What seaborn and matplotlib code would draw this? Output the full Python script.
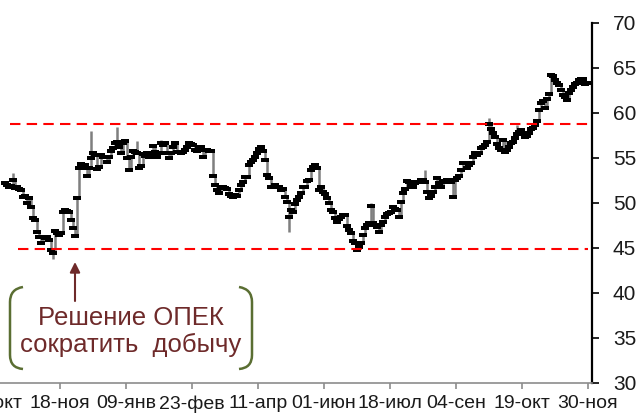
import numpy as np
import pandas as pd
import matplotlib
matplotlib.use("Agg")
import matplotlib.pyplot as plt
import seaborn as sns
from matplotlib.path import Path
from matplotlib.patches import PathPatch

# daily close, one value per trading day (Oct 2016 - Nov 2017)
close = [
    52.2, 52.0, 51.7, 51.9, 52.5, 51.6, 51.8, 51.5, 51.4, 50.6,
    50.8, 50.0, 50.5, 49.5, 48.3, 48.1, 46.7, 46.2, 45.5, 46.2,
    46.1, 46.2, 45.9, 44.8, 44.4, 46.9, 46.6, 46.4, 46.6, 49.0,
    49.2, 49.1, 49.0, 48.1, 47.2, 46.3, 50.5, 53.9, 54.3, 53.9,
    54.2, 53.0, 53.9, 55.0, 55.5, 55.3, 53.7, 54.0, 55.3, 55.1,
    55.1, 54.5, 55.1, 55.8, 56.1, 56.6, 56.7, 56.2, 55.5, 56.6,
    56.9, 55.0, 53.6, 55.1, 55.8, 55.6, 55.5, 53.9, 54.1, 55.4,
    55.2, 55.5, 55.1, 55.5, 56.3, 55.6, 55.1, 55.5, 56.6, 56.4,
    56.6, 55.5, 55.0, 55.5, 56.2, 56.6, 55.6, 55.6, 55.5, 55.6,
    55.9, 56.2, 56.6, 56.5, 56.4, 55.9, 55.8, 56.0, 56.2, 55.1,
    55.9, 55.9, 55.8, 55.8, 53.0, 52.0, 51.4, 51.1, 51.8, 51.8,
    51.6, 51.5, 51.0, 50.8, 50.6, 50.9, 50.7, 51.4, 52.0, 52.3,
    52.9, 52.9, 54.2, 54.5, 54.8, 55.1, 55.5, 56.0, 56.2, 55.8,
    54.7, 53.1, 52.7, 51.8, 51.8, 52.0, 51.7, 51.8, 51.4, 51.5,
    50.6, 50.1, 48.4, 49.2, 49.0, 49.9, 50.3, 50.6, 51.1, 51.8,
    51.8, 52.4, 52.5, 53.6, 54.0, 54.2, 53.9, 51.4, 51.8, 51.2,
    51.0, 50.5, 50.0, 49.2, 49.0, 48.3, 47.9, 48.2, 48.4, 48.6,
    48.6, 47.4, 47.0, 46.6, 45.8, 45.5, 44.7, 45.1, 45.5, 46.4,
    47.2, 47.5, 47.8, 49.6, 47.8, 47.5, 47.3, 46.7, 47.5, 47.9,
    48.4, 48.8, 48.9, 49.0, 49.5, 49.3, 49.2, 48.4, 50.1, 51.1,
    51.5, 52.4, 52.3, 52.0, 51.8, 52.2, 52.3, 52.3, 52.5, 52.5,
    52.3, 51.2, 50.5, 50.8, 51.2, 51.7, 52.7, 52.2, 51.8, 52.3,
    52.4, 52.5, 52.3, 52.3, 50.6, 52.5, 52.7, 53.0, 53.6, 54.4,
    54.4, 53.9, 54.2, 54.4, 55.1, 55.5, 55.3, 55.5, 56.1, 56.2,
    56.4, 56.8, 58.8, 58.2, 57.7, 57.3, 56.5, 56.1, 55.9, 57.0,
    55.6, 55.9, 56.2, 56.6, 56.8, 57.2, 57.6, 57.9, 58.1, 57.7,
    57.3, 57.4, 57.8, 58.2, 58.3, 58.6, 59.1, 60.3, 61.1, 61.3,
    60.5, 61.5, 62.1, 64.2, 64.1, 63.6, 63.3, 63.1, 62.5, 62.0,
    61.7, 61.4, 62.2, 62.5, 62.9, 63.2, 63.3, 63.6, 63.7, 63.7,
    63.2, 63.3,
]

# intraday extremes that stick out beyond the neighbouring closes
wick_day = [4, 24, 43, 56, 66, 78, 142, 183, 210, 242, 256]
wick_price = [53.3, 43.8, 58.0, 58.4, 56.9, 57.0, 46.7, 50.0, 53.6, 59.4, 58.6]

tick_labels = ["05-окт", "18-ноя", "09-янв", "23-фев", "11-апр",
               "01-июн", "18-июл", "04-сен", "19-окт", "30-ноя"]
support = 44.82
resistance = 58.74

W, H = 639, 419
sns.set_style("white")
plt.rcParams["font.family"] = ["Liberation Sans", "DejaVu Sans"]

df = pd.DataFrame({"day": np.arange(len(close)), "close": close})
prev = df["close"].shift(1).fillna(df["close"])
df["lo"] = np.minimum(prev, df["close"])
df["hi"] = np.maximum(prev, df["close"])
for d, p in zip(wick_day, wick_price):
    df.loc[d, "lo"] = min(df.loc[d, "lo"], p)
    df.loc[d, "hi"] = max(df.loc[d, "hi"], p)

fig = plt.figure(figsize=(W / 100, H / 100), dpi=100)
ax = fig.add_axes([-10 / W, 36.3 / H, 602 / W, 360 / H])

ax.vlines(df["day"], df["lo"], df["hi"], color="#7f7f7f", lw=1.8, zorder=2)
rect = [(-1, -0.55), (1, -0.55), (1, 0.55), (-1, 0.55), (-1, -0.55)]
sns.scatterplot(data=df, x="day", y="close", ax=ax, marker=rect, s=27,
                color="black", linewidth=0, zorder=3, legend=False)

ax.hlines(resistance, 2.5, 291.5, color="#ff0000", lw=1.5,
          linestyles=(0, (5, 3)), zorder=4)
ax.hlines(support, 6.5, 291.5, color="#ff0000", lw=1.5,
          linestyles=(0, (5, 3)), zorder=4)

ax.set_xlim(-7.5, 293.5)
ax.set_ylim(30, 70)
ax.set_xticks(-5.5 + 33 * np.arange(len(tick_labels)))
ax.set_xticklabels(tick_labels)
ax.set_yticks(np.arange(30, 71, 5))
ax.yaxis.tick_right()
ax.set_xlabel("")
ax.set_ylabel("")

for s in ["left", "top"]:
    ax.spines[s].set_visible(False)
ax.spines["right"].set_color("black")
ax.spines["right"].set_linewidth(1.6)
ax.spines["bottom"].set_color("#8c8c8c")
ax.spines["bottom"].set_linewidth(1.2)
ax.tick_params(axis="y", which="both", right=True, left=False, direction="out",
               length=5, width=1.2, color="black", labelsize=15, pad=10,
               labelcolor="#1a1a1a")
ax.tick_params(axis="x", bottom=True, direction="out", length=4, width=1.2,
               color="#8c8c8c", labelsize=14, pad=5, labelcolor="#1a1a1a")


def fp(x, y):
    return (x / W, 1 - y / H)


txt_col = "#6e2a2a"
fig.text(*fp(131, 325), "Решение ОПЕК", ha="center", va="baseline",
         fontsize=18.5, color=txt_col)
fig.text(*fp(131, 352), "сократить  добычу", ha="center", va="baseline",
         fontsize=18.5, color=txt_col)

ax.annotate("", xy=(75, H - 262), xytext=(75, H - 301),
            xycoords="figure pixels", textcoords="figure pixels",
            arrowprops=dict(arrowstyle="-|>", color=txt_col, lw=1.5,
                            mutation_scale=15, shrinkA=0, shrinkB=0))

br_col = "#5a6e32"
for pts in ([(23, 287), (10, 289), (10, 302), (10, 355), (10, 368), (23, 369)],
            [(239, 287), (252, 289), (252, 302), (252, 355), (252, 368), (239, 369)]):
    verts = [fp(*p) for p in pts]
    codes = [Path.MOVETO, Path.CURVE3, Path.CURVE3, Path.LINETO,
             Path.CURVE3, Path.CURVE3]
    fig.add_artist(PathPatch(Path(verts, codes), transform=fig.transFigure,
                             fill=False, edgecolor=br_col, lw=1.8))

fig.savefig("out.png", dpi=100)
